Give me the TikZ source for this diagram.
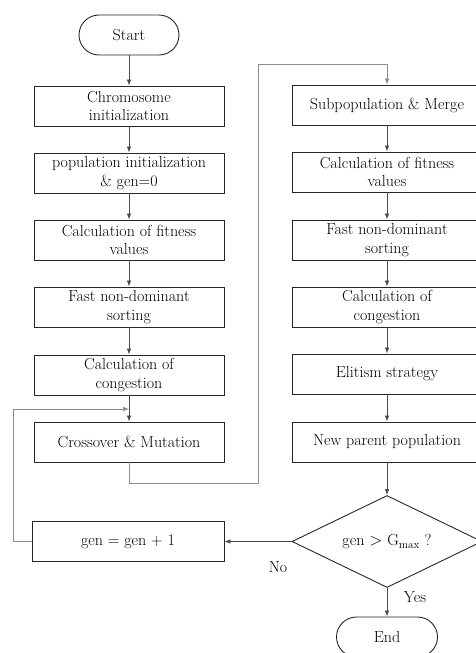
\documentclass[tikz,border=0pt]{standalone}
\usetikzlibrary{shapes.geometric,arrows.meta}
\begin{document}
\begin{tikzpicture}[x=1pt,y=-1pt,
    box/.style={draw=black!85,line width=0.9pt,minimum width=190pt,minimum height=40pt,
      align=center,inner sep=1pt,font=\fontsize{16}{18.5}\selectfont},
    term/.style={box,minimum width=100pt,rounded corners=20pt},
    test/.style={draw=black!85,line width=0.9pt,shape=diamond,aspect=2.07,
      minimum width=190pt,minimum height=92pt,inner sep=0pt,font=\fontsize{16}{18.5}\selectfont},
    flow/.style={draw=black!70,line width=0.7pt,-{Latex[length=6pt,width=4.5pt]}},
    loop/.style={flow,draw=black!45},
    tag/.style={font=\fontsize{16}{18.5}\selectfont}]
  \useasboundingbox (0,0) rectangle (475,653);
  % left column
  \node[term] (start) at (129,35) {Start};
  \node[box] (chrom) at (129,106) {Chromosome\\initialization};
  \node[box] (pop)   at (129,173) {population initialization\\\& gen=0};
  \node[box] (fit1)  at (129,240) {Calculation of fitness\\values};
  \node[box] (sort1) at (129,307) {Fast non-dominant\\sorting};
  \node[box] (cong1) at (129,375) {Calculation of\\congestion};
  \node[box] (cross) at (129,442) {Crossover \& Mutation};
  \node[box,minimum width=192pt] (gen) at (128,541.5) {gen = gen + 1};
  % right column
  \node[box] (merge)  at (387,105) {Subpopulation \& Merge};
  \node[box] (fit2)   at (387,172) {Calculation of fitness\\values};
  \node[box] (sort2)  at (387,240) {Fast non-dominant\\sorting};
  \node[box] (cong2)  at (387,307) {Calculation of\\congestion};
  \node[box] (elit)   at (387,374) {Elitism strategy};
  \node[box] (parent) at (387,442) {New parent population};
  \node[test] (check) at (387,541.5) {gen $>$ G\textsubscript{max} ?};
  \node[term,minimum width=101pt] (stop) at (387,637) {End};
  \node[tag] (no)  at (278,567) {No};
  \node[tag] (yes) at (415,597) {Yes};
  % straight arrows
  \foreach \a/\b in {start/chrom, chrom/pop, pop/fit1, fit1/sort1, sort1/cong1, cong1/cross,
      merge/fit2, fit2/sort2, sort2/cong2, cong2/elit, elit/parent, parent/check, check/stop}
    \draw[flow] (\a) -- (\b);
  \draw[flow] (check.west) -- (gen.east);
  % loops
  \coordinate (back) at (13,409);
  \draw[loop] (gen.west) -| (back) -- (back -| cross.north);
  \coordinate (low) at (258,483);
  \coordinate (high) at (258,64);
  \draw[loop] (cross.south) |- (low) -- (high) -| (merge.north);
\end{tikzpicture}
\end{document}
